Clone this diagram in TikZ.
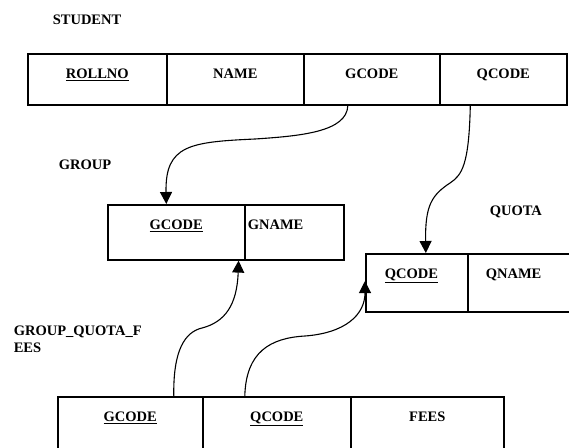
\documentclass[tikz,border=0pt]{standalone}
\usepackage{fontspec}
\setmainfont{Liberation Serif}
\usetikzlibrary{arrows.meta}

\begin{document}
\begin{tikzpicture}[x=1pt, y=-1pt, line width=1.6pt,
  font=\bfseries\fontsize{14.5}{17}\selectfont,
  cell/.style args={#1/#2}{draw, anchor=north west, inner ysep=0pt,
    minimum width=#1, text height=25pt, text depth=#2},
  title/.style={anchor=base west, inner sep=0pt},
  link/.style={line width=1.1pt, -{Triangle[length=12pt, width=12pt]}}]
\clip (0,0) rectangle (569,447);

% table names
\node[title] (tStudent) at (52,24) {STUDENT};
\node[title] (tGroup) at (58,169) {GROUP};
\node[title] (tQuota) at (489,215) {QUOTA};
\node[title, anchor=north west, align=left] (tFees) at (13,325) {GROUP\_QUOTA\_F\\EES};

% STUDENT
\node[cell=139pt/26pt] (sRoll) at (27,53) {\underline{ROLLNO}};
\node[cell=137pt/26pt] (sName) at (166,53) {NAME};
\node[cell=136pt/26pt] (sGcode) at (303,53) {GCODE};
\node[cell=127pt/26pt] (sQcode) at (439,53) {QCODE};

% GROUP
\node[cell=137pt/30pt] (gGcode) at (107,204) {\underline{GCODE}};
\node[cell=99pt/30pt, align=left, text width=93pt, inner xsep=3pt] (gName) at (244,204) {GNAME};

% QUOTA
\node[cell=102pt/33pt, align=left, text width=64pt, inner xsep=19pt] (qCode) at (365,253) {\underline{QCODE}};
\node[cell=110pt/33pt, align=left, text width=74pt, inner xsep=18pt] (qName) at (467,253) {QNAME};

% GROUP_QUOTA_FEES
\node[cell=145pt/40pt] (fGcode) at (57,396) {\underline{GCODE}};
\node[cell=148pt/40pt] (fQcode) at (202,396) {\underline{QCODE}};
\node[cell=153pt/40pt] (fFees) at (350,396) {FEES};

% foreign keys
\coordinate (b1) at (255,139);
\coordinate (b2) at (450,183);
\coordinate (b3) at (202,328);
\coordinate (b4) at (305,336);
\draw[link] ([xshift=-24pt]sGcode.south) .. controls (347,132) and (300,136) .. (b1)
  .. controls (190,142) and (165,145) .. ([xshift=-10pt]gGcode.north);
\draw[link] ([xshift=-33pt]sQcode.south) .. controls (469,165) and (462,175) .. (b2)
  .. controls (432,195) and (425,205) .. ([xshift=9pt]qCode.north);
\draw[link] ([xshift=43.5pt]fGcode.north) .. controls (173,350) and (185,332) .. (b3)
  .. controls (225,322) and (237,305) .. ([xshift=-7pt]gGcode.south east);
\draw[link] ([xshift=-32pt]fQcode.north) .. controls (246,352) and (270,338) .. (b4)
  .. controls (345,333) and (365,315) .. ([yshift=-28pt]qCode.north west);
\end{tikzpicture}
\end{document}
